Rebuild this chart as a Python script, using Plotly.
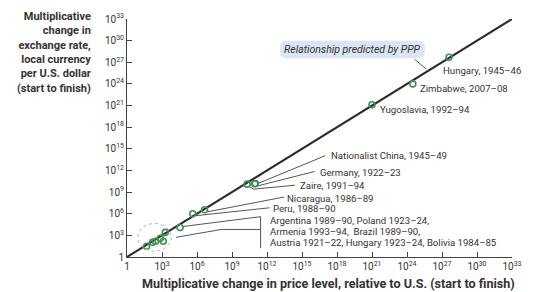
import plotly.graph_objects as go

# ---- data (values as powers of ten: 10**exp) ----
countries = ["Hungary, 1945–46", "Zimbabwe, 2007–08", "Yugoslavia, 1992–94",
             "Nationalist China, 1945–49", "Germany, 1922–23", "Zaire, 1991–94",
             "Nicaragua, 1986–89", "Peru, 1988–90",
             "Argentina 1989–90", "Poland 1923–24", "Armenia 1993–94", "Brazil 1989–90",
             "Austria 1921–22", "Hungary 1923–24", "Bolivia 1984–85"]
price_exp = [27.6, 24.5, 21.0, 10.3, 11.0, 10.95, 6.65, 5.64, 4.55, 3.28, 3.11, 2.86, 2.44, 2.19, 1.68]
fx_exp    = [27.7, 24.0, 21.1, 10.1, 10.2, 10.15, 6.55, 6.0, 4.1, 3.41, 2.18, 2.59, 2.18, 2.05, 1.50]

tick_exp = list(range(0, 34, 3))
tick_text = ["1"] + [f"10<sup>{e}</sup>" for e in tick_exp[1:]]

FONT = "Roboto"
DARK = "#333333"
GREEN = "#3f8f52"

fig = go.Figure()

# ---- leader lines (log10 units, converted to data) ----
leaders = [
    [(17.0, 14.05), (11.28, 10.23)],
    [(16.08, 11.86), (11.11, 9.82)],
    [(14.39, 9.95), (10.86, 9.41), (10.44, 9.82)],
    [(13.47, 8.32), (6.90, 6.27)],
    [(12.21, 6.82), (5.89, 5.73)],
    [(11.45, 5.59), (4.80, 4.23)],
    [(11.45, 3.82), (8.08, 3.82), (4.21, 2.73)],
    [(11.45, 5.59), (11.45, 1.23)],
    [(24.66, 27.41), (25.67, 26.05)],
]
for pts in leaders:
    fig.add_trace(go.Scatter(x=[10.0**p[0] for p in pts], y=[10.0**p[1] for p in pts],
                             mode="lines", line=dict(color="#555555", width=1),
                             hoverinfo="skip"))

# PPP line (y = x)
fig.add_trace(go.Scatter(x=[1.0, 10.0**33], y=[1.0, 10.0**33], mode="lines",
                         line=dict(color="#2b2b2b", width=2), hoverinfo="skip",
                         cliponaxis=False))
# data points
fig.add_trace(go.Scatter(x=[10.0**e for e in price_exp], y=[10.0**e for e in fx_exp],
                         mode="markers", text=countries,
                         marker=dict(symbol="circle-open", size=6, color=GREEN,
                                     line=dict(width=1.6, color=GREEN))))

shapes = []
# dotted ellipse around cluster (shape positions in data units on log axes)
shapes.append(dict(type="circle", xref="x", yref="y",
                   x0=10.0**0.93, x1=10.0**3.79, y0=10.0**0.82, y1=10.0**4.64,
                   line=dict(color="#b0b0b0", width=1, dash="dot")))

# rounded callout box (paper coords)
def rounded(x0, y0, x1, y1, rx, ry):
    return (f"M {x0+rx},{y0} L {x1-rx},{y0} Q {x1},{y0} {x1},{y0+ry} "
            f"L {x1},{y1-ry} Q {x1},{y1} {x1-rx},{y1} L {x0+rx},{y1} "
            f"Q {x0},{y1} {x0},{y1-ry} L {x0},{y0+ry} Q {x0},{y0} {x0+rx},{y0} Z")

shapes.append(dict(type="path", xref="paper", yref="paper",
                   path=rounded(0.398, 0.835, 0.773, 0.909, 0.016, 0.026),
                   fillcolor="#dbe5f4", line=dict(width=0), layer="below"))

# ---- labels ----
labels = [
    ("Hungary, 1945–46", 26.94, 25.91),
    ("Zimbabwe, 2007–08", 24.92, 23.32),
    ("Yugoslavia, 1992–94", 21.55, 20.45),
    ("Nationalist China, 1945–49", 17.34, 14.05),
    ("Germany, 1922–23", 16.33, 11.73),
    ("Zaire, 1991–94", 14.65, 9.95),
    ("Nicaragua, 1986–89", 13.55, 8.18),
    ("Peru, 1988–90", 12.37, 6.68),
    ("Argentina 1989–90, Poland 1923–24,", 12.12, 5.05),
    ("Armenia 1993–94,  Brazil 1989–90,", 12.12, 3.55),
    ("Austria 1921–22, Hungary 1923–24, Bolivia 1984–85", 12.12, 2.05),
]
annotations = []
for t, x, y in labels:
    annotations.append(dict(text=t, x=x, y=y, xref="x", yref="y", xanchor="left",
                            yanchor="middle", showarrow=False,
                            font=dict(family=FONT, size=9.6, color=DARK)))

annotations.append(dict(text="<i>Relationship predicted by PPP</i>", x=0.5855, y=0.872,
                        xref="paper", yref="paper", xanchor="center", yanchor="middle",
                        showarrow=False,
                        font=dict(family=FONT, size=10.5, color=DARK)))

annotations.append(dict(text="<b>Multiplicative<br>change in<br>exchange rate,<br>local currency<br>per U.S. dollar<br>(start to finish)</b>",
                        x=-0.088, y=1.045, xref="paper", yref="paper", xanchor="right",
                        yanchor="top", align="right", showarrow=False,
                        font=dict(family=FONT, size=11, color=DARK)))
annotations.append(dict(text="<b>Multiplicative change in price level, relative to U.S. (start to finish)</b>",
                        x=0.523, y=-0.112, xref="paper", yref="paper", xanchor="center",
                        yanchor="middle", showarrow=False,
                        font=dict(family=FONT, size=12.6, color=DARK)))

axis_common = dict(type="log", range=[0, 33], tickvals=[10.0**e for e in tick_exp],
                   ticktext=tick_text, showgrid=False, zeroline=False, showline=True,
                   linecolor="#444444", linewidth=1, ticks="inside", ticklen=5,
                   tickcolor="#444444", tickfont=dict(family=FONT, size=10, color=DARK))

fig.update_layout(
    width=534, height=292, margin=dict(l=127, r=15, t=15, b=35),
    paper_bgcolor="white", plot_bgcolor="white", showlegend=False,
    xaxis=dict(**axis_common), yaxis=dict(**axis_common),
    shapes=shapes, annotations=annotations,
)

fig.write_html("out.html", config={"displayModeBar": False},
               post_script="document.body.style.margin='0';")
